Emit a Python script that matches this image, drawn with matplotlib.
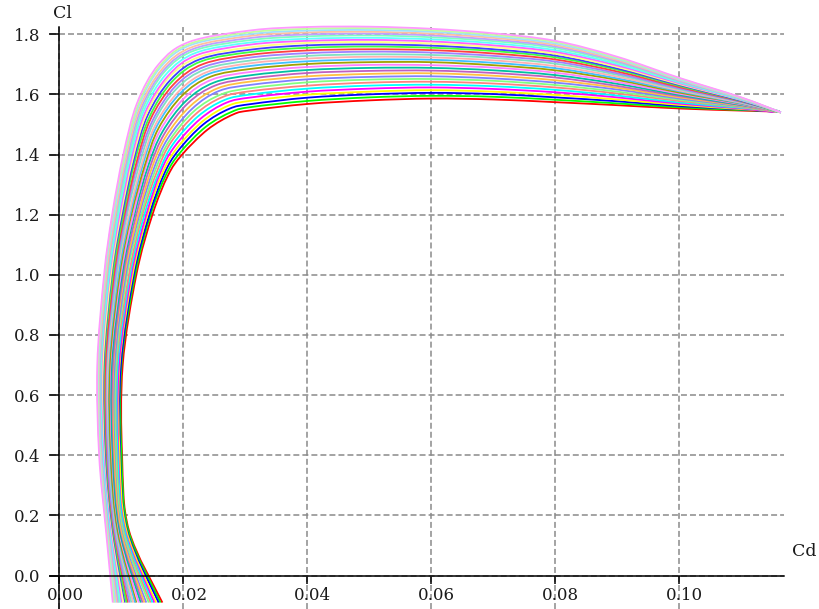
import matplotlib
matplotlib.use("Agg")
import matplotlib.pyplot as plt
from matplotlib.path import Path
from matplotlib.patches import PathPatch
from matplotlib.transforms import ScaledTranslation

# ---------------------------------------------------------------------------
# Drag polars (Cl versus Cd) of a family of 30 airfoil variants.
# Index 0 is the lowest polar (lowest maximum lift), index 29 the highest.
# ---------------------------------------------------------------------------

# Lower (attached-flow) branch: Cd of each polar at these lift levels
LOWER_CL = [-0.09, 0.15, 0.40, 0.70, 1.00, 1.20]
LOWER_CD = [
    [0.0166, 0.0163, 0.0160, 0.0156, 0.0153, 0.0150, 0.0147, 0.0144, 0.0140, 0.0137,
     0.0134, 0.0131, 0.0128, 0.0124, 0.0122, 0.0119, 0.0116, 0.0113, 0.0110, 0.0108,
     0.0105, 0.0103, 0.0100, 0.0098, 0.0096, 0.0094, 0.0092, 0.0090, 0.0088, 0.0086],
    [0.0112, 0.0111, 0.0109, 0.0108, 0.0106, 0.0105, 0.0103, 0.0102, 0.0100, 0.0099,
     0.0097, 0.0096, 0.0094, 0.0093, 0.0091, 0.0090, 0.0089, 0.0088, 0.0086, 0.0085,
     0.0084, 0.0083, 0.0082, 0.0081, 0.0079, 0.0079, 0.0078, 0.0077, 0.0076, 0.0075],
    [0.0101, 0.0100, 0.0098, 0.0097, 0.0095, 0.0094, 0.0092, 0.0091, 0.0089, 0.0088,
     0.0086, 0.0085, 0.0083, 0.0082, 0.0080, 0.0079, 0.0078, 0.0077, 0.0075, 0.0074,
     0.0073, 0.0072, 0.0071, 0.0070, 0.0068, 0.0068, 0.0067, 0.0066, 0.0065, 0.0064],
    [0.0102, 0.0100, 0.0099, 0.0097, 0.0096, 0.0094, 0.0092, 0.0091, 0.0089, 0.0087,
     0.0086, 0.0084, 0.0082, 0.0081, 0.0079, 0.0078, 0.0076, 0.0075, 0.0074, 0.0072,
     0.0071, 0.0070, 0.0068, 0.0067, 0.0066, 0.0065, 0.0064, 0.0063, 0.0062, 0.0061],
    [0.0124, 0.0122, 0.0120, 0.0118, 0.0116, 0.0114, 0.0112, 0.0109, 0.0107, 0.0105,
     0.0103, 0.0101, 0.0099, 0.0097, 0.0095, 0.0093, 0.0092, 0.0090, 0.0088, 0.0086,
     0.0084, 0.0083, 0.0081, 0.0080, 0.0078, 0.0077, 0.0076, 0.0074, 0.0073, 0.0072],
    [0.0150, 0.0147, 0.0145, 0.0142, 0.0140, 0.0137, 0.0134, 0.0132, 0.0129, 0.0127,
     0.0124, 0.0121, 0.0119, 0.0116, 0.0114, 0.0112, 0.0109, 0.0107, 0.0105, 0.0103,
     0.0101, 0.0099, 0.0097, 0.0095, 0.0093, 0.0091, 0.0090, 0.0088, 0.0086, 0.0085],
]

# Knee of each polar (transition towards maximum lift): four (Cd, Cl) points
KNEE_CD = [
    [0.0175, 0.0172, 0.0169, 0.0166, 0.0163, 0.0161, 0.0158, 0.0155, 0.0152, 0.0149,
     0.0146, 0.0143, 0.0140, 0.0138, 0.0135, 0.0133, 0.0130, 0.0127, 0.0125, 0.0122,
     0.0120, 0.0118, 0.0116, 0.0114, 0.0112, 0.0110, 0.0108, 0.0106, 0.0105, 0.0103],
    [0.0198, 0.0195, 0.0192, 0.0189, 0.0186, 0.0183, 0.0180, 0.0178, 0.0175, 0.0172,
     0.0169, 0.0166, 0.0163, 0.0160, 0.0157, 0.0155, 0.0152, 0.0150, 0.0147, 0.0145,
     0.0142, 0.0140, 0.0138, 0.0136, 0.0134, 0.0132, 0.0130, 0.0128, 0.0127, 0.0125],
    [0.0239, 0.0236, 0.0232, 0.0230, 0.0227, 0.0223, 0.0220, 0.0217, 0.0214, 0.0211,
     0.0207, 0.0204, 0.0201, 0.0198, 0.0195, 0.0193, 0.0189, 0.0187, 0.0184, 0.0181,
     0.0179, 0.0176, 0.0175, 0.0172, 0.0169, 0.0168, 0.0166, 0.0163, 0.0162, 0.0160],
    [0.0280, 0.0278, 0.0274, 0.0272, 0.0269, 0.0266, 0.0263, 0.0261, 0.0257, 0.0255,
     0.0252, 0.0249, 0.0246, 0.0244, 0.0241, 0.0239, 0.0236, 0.0234, 0.0232, 0.0229,
     0.0227, 0.0225, 0.0222, 0.0221, 0.0218, 0.0217, 0.0215, 0.0213, 0.0211, 0.0210],
]
KNEE_CL = [
    [1.330, 1.333, 1.336, 1.338, 1.341, 1.344, 1.347, 1.350, 1.352, 1.355,
     1.358, 1.361, 1.364, 1.366, 1.369, 1.371, 1.374, 1.376, 1.379, 1.381,
     1.383, 1.385, 1.387, 1.390, 1.392, 1.393, 1.395, 1.397, 1.398, 1.400],
    [1.400, 1.407, 1.414, 1.420, 1.427, 1.434, 1.441, 1.448, 1.454, 1.461,
     1.468, 1.475, 1.482, 1.488, 1.494, 1.500, 1.506, 1.512, 1.518, 1.524,
     1.529, 1.534, 1.539, 1.545, 1.550, 1.554, 1.558, 1.562, 1.566, 1.570],
    [1.483, 1.492, 1.500, 1.509, 1.518, 1.526, 1.535, 1.544, 1.552, 1.561,
     1.570, 1.578, 1.587, 1.596, 1.604, 1.611, 1.619, 1.627, 1.633, 1.641,
     1.648, 1.655, 1.661, 1.667, 1.674, 1.680, 1.685, 1.690, 1.695, 1.700],
    [1.533, 1.542, 1.552, 1.562, 1.572, 1.581, 1.591, 1.600, 1.611, 1.620,
     1.630, 1.639, 1.649, 1.659, 1.668, 1.675, 1.684, 1.692, 1.701, 1.710,
     1.717, 1.724, 1.731, 1.739, 1.746, 1.752, 1.758, 1.765, 1.769, 1.775],
]

# Upper (stalled) branch: Cl of each polar at these drag levels
UPPER_CD = [0.031, 0.04, 0.05, 0.06, 0.07, 0.08, 0.09, 0.10, 0.11]
UPPER_CL = [
    [1.547, 1.558, 1.568, 1.579, 1.590, 1.600, 1.611, 1.621, 1.632, 1.643,
     1.653, 1.664, 1.675, 1.685, 1.695, 1.704, 1.713, 1.723, 1.732, 1.741,
     1.749, 1.757, 1.766, 1.773, 1.781, 1.788, 1.795, 1.801, 1.807, 1.813],
    [1.568, 1.578, 1.589, 1.599, 1.609, 1.619, 1.629, 1.640, 1.650, 1.660,
     1.671, 1.681, 1.691, 1.701, 1.710, 1.719, 1.728, 1.737, 1.746, 1.755,
     1.763, 1.771, 1.778, 1.785, 1.793, 1.799, 1.806, 1.812, 1.818, 1.824],
    [1.580, 1.590, 1.600, 1.609, 1.619, 1.629, 1.639, 1.649, 1.658, 1.668,
     1.678, 1.688, 1.698, 1.707, 1.716, 1.725, 1.733, 1.742, 1.750, 1.759,
     1.766, 1.774, 1.781, 1.788, 1.796, 1.802, 1.808, 1.814, 1.820, 1.825],
    [1.586, 1.595, 1.605, 1.614, 1.623, 1.632, 1.642, 1.651, 1.660, 1.670,
     1.679, 1.688, 1.697, 1.707, 1.715, 1.723, 1.731, 1.739, 1.747, 1.755,
     1.762, 1.769, 1.776, 1.783, 1.790, 1.796, 1.802, 1.808, 1.813, 1.818],
    [1.583, 1.592, 1.601, 1.609, 1.618, 1.627, 1.636, 1.645, 1.653, 1.662,
     1.671, 1.680, 1.689, 1.697, 1.705, 1.713, 1.721, 1.728, 1.736, 1.744,
     1.750, 1.757, 1.763, 1.770, 1.777, 1.782, 1.788, 1.793, 1.798, 1.803],
    [1.574, 1.582, 1.590, 1.598, 1.607, 1.615, 1.623, 1.631, 1.639, 1.647,
     1.656, 1.664, 1.672, 1.680, 1.687, 1.694, 1.702, 1.709, 1.716, 1.723,
     1.729, 1.735, 1.741, 1.747, 1.754, 1.759, 1.764, 1.769, 1.774, 1.778],
    [1.564, 1.570, 1.577, 1.583, 1.590, 1.596, 1.603, 1.609, 1.616, 1.622,
     1.628, 1.635, 1.641, 1.648, 1.653, 1.659, 1.665, 1.670, 1.676, 1.682,
     1.686, 1.691, 1.696, 1.701, 1.706, 1.710, 1.714, 1.718, 1.721, 1.725],
    [1.553, 1.557, 1.561, 1.565, 1.569, 1.573, 1.578, 1.582, 1.586, 1.590,
     1.594, 1.598, 1.602, 1.606, 1.610, 1.613, 1.617, 1.620, 1.624, 1.628,
     1.631, 1.634, 1.637, 1.640, 1.643, 1.645, 1.648, 1.650, 1.653, 1.655],
    [1.546, 1.548, 1.550, 1.551, 1.553, 1.555, 1.557, 1.558, 1.560, 1.562,
     1.564, 1.565, 1.567, 1.569, 1.570, 1.572, 1.574, 1.575, 1.577, 1.578,
     1.579, 1.581, 1.582, 1.583, 1.585, 1.586, 1.587, 1.588, 1.589, 1.590],
]

# Last computed point of each polar
END_CD = [0.1152, 0.1158, 0.1155, 0.1160, 0.1156, 0.1161, 0.1157, 0.1162, 0.1159, 0.1163,
          0.1158, 0.1162, 0.1160, 0.1164, 0.1161, 0.1163, 0.1159, 0.1164, 0.1162, 0.1160,
          0.1164, 0.1161, 0.1163, 0.1162, 0.1164, 0.1160, 0.1163, 0.1164, 0.1162, 0.1164]
END_CL = [1.543, 1.544, 1.542, 1.543, 1.541, 1.544, 1.542, 1.541, 1.543, 1.540,
          1.542, 1.544, 1.541, 1.540, 1.543, 1.541, 1.542, 1.540, 1.543, 1.541,
          1.540, 1.542, 1.541, 1.543, 1.540, 1.542, 1.541, 1.540, 1.541, 1.540]

COLORS = ["#ff0000", "#00ff00", "#0000ff", "#ffff00", "#ff00ff", "#00ffff",
          "#ff8080", "#80ff80", "#8080ff", "#ffc040", "#c060c0", "#00c0a0",
          "#ff80ff", "#a0a000", "#40c0ff", "#ffb0b0", "#80e0c0", "#a080ff",
          "#ff4040", "#40ff40", "#4040ff", "#ffff80", "#ff60ff", "#60ffff",
          "#80ffc0", "#c0a0ff", "#ffc0a0", "#a0e0ff", "#c0ffa0", "#ff99ff"]

X_TICKS = [0.00, 0.02, 0.04, 0.06, 0.08, 0.10]
Y_TICKS = [0.0, 0.2, 0.4, 0.6, 0.8, 1.0, 1.2, 1.4, 1.6, 1.8]

FONT = "DejaVu Serif"
W, H = 819, 609


def smooth_polar(xs, ys):
    """Smooth cubic path running through every polar point (Catmull-Rom style)."""
    pts = list(zip(xs, ys))
    n = len(pts)
    verts = [pts[0]]
    codes = [Path.MOVETO]
    for k in range(n - 1):
        p0 = pts[k - 1] if k > 0 else pts[k]
        p1, p2 = pts[k], pts[k + 1]
        p3 = pts[k + 2] if k + 2 < n else pts[k + 1]
        c1 = (p1[0] + (p2[0] - p0[0]) / 6, p1[1] + (p2[1] - p0[1]) / 6)
        c2 = (p2[0] - (p3[0] - p1[0]) / 6, p2[1] - (p3[1] - p1[1]) / 6)
        verts += [c1, c2, p2]
        codes += [Path.CURVE4] * 3
    return Path(verts, codes)


fig = plt.figure(figsize=(W / 100, H / 100), dpi=100)
ax = fig.add_axes([50 / W, 0.0, 734 / W, 582 / H])

n_polars = len(END_CD)
for i in range(n_polars):
    cd = [row[i] for row in LOWER_CD] + [row[i] for row in KNEE_CD] + list(UPPER_CD) + [END_CD[i]]
    cl = list(LOWER_CL) + [row[i] for row in KNEE_CL] + [row[i] for row in UPPER_CL] + [END_CL[i]]
    ax.add_patch(PathPatch(smooth_polar(cd, cl), fill=False,
                           edgecolor=COLORS[i % len(COLORS)], lw=1.3,
                           clip_on=False, zorder=3))

ax.set_xlim(-0.00153, 0.1169)
ax.set_ylim(-0.1114, 1.824)

# axes cross at the origin
for side in ("top", "right"):
    ax.spines[side].set_visible(False)
ax.spines["left"].set_position(("data", 0))
ax.spines["bottom"].set_position(("data", 0))
for side in ("left", "bottom"):
    ax.spines[side].set_linewidth(1.1)
    ax.spines[side].set_zorder(4)

ax.set_xticks(X_TICKS)
ax.set_xticklabels([f"{v:.2f}" for v in X_TICKS])
ax.set_yticks(Y_TICKS)
ax.set_yticklabels([f"{v:.1f}" for v in Y_TICKS])
ax.tick_params(axis="y", direction="out", length=7.2, width=1.1, pad=6.8,
               labelsize=12, labelcolor="#1a1a1a")
ax.tick_params(axis="x", direction="out", length=5.4, width=1.1, pad=2.9,
               labelsize=12, labelcolor="#1a1a1a")
for lbl in ax.get_xticklabels() + ax.get_yticklabels():
    lbl.set_fontfamily(FONT)
# x labels sit with their decimal point on the grid line
for lbl in ax.get_xticklabels():
    lbl.set_transform(lbl.get_transform() + ScaledTranslation(0.055, 0, fig.dpi_scale_trans))

ax.set_axisbelow(True)
ax.grid(True, color="#8a8a8a", linestyle=(0, (3.9, 2.0)), linewidth=1.1)

fig.text(62 / W, 1 - 13.5 / H, "Cl", family=FONT, fontsize=12.5, color="#1a1a1a",
         ha="center", va="center")
fig.text(804 / W, 1 - 551.5 / H, "Cd", family=FONT, fontsize=12.5, color="#1a1a1a",
         ha="center", va="center")

fig.savefig("out.png", dpi=100, facecolor="white")
